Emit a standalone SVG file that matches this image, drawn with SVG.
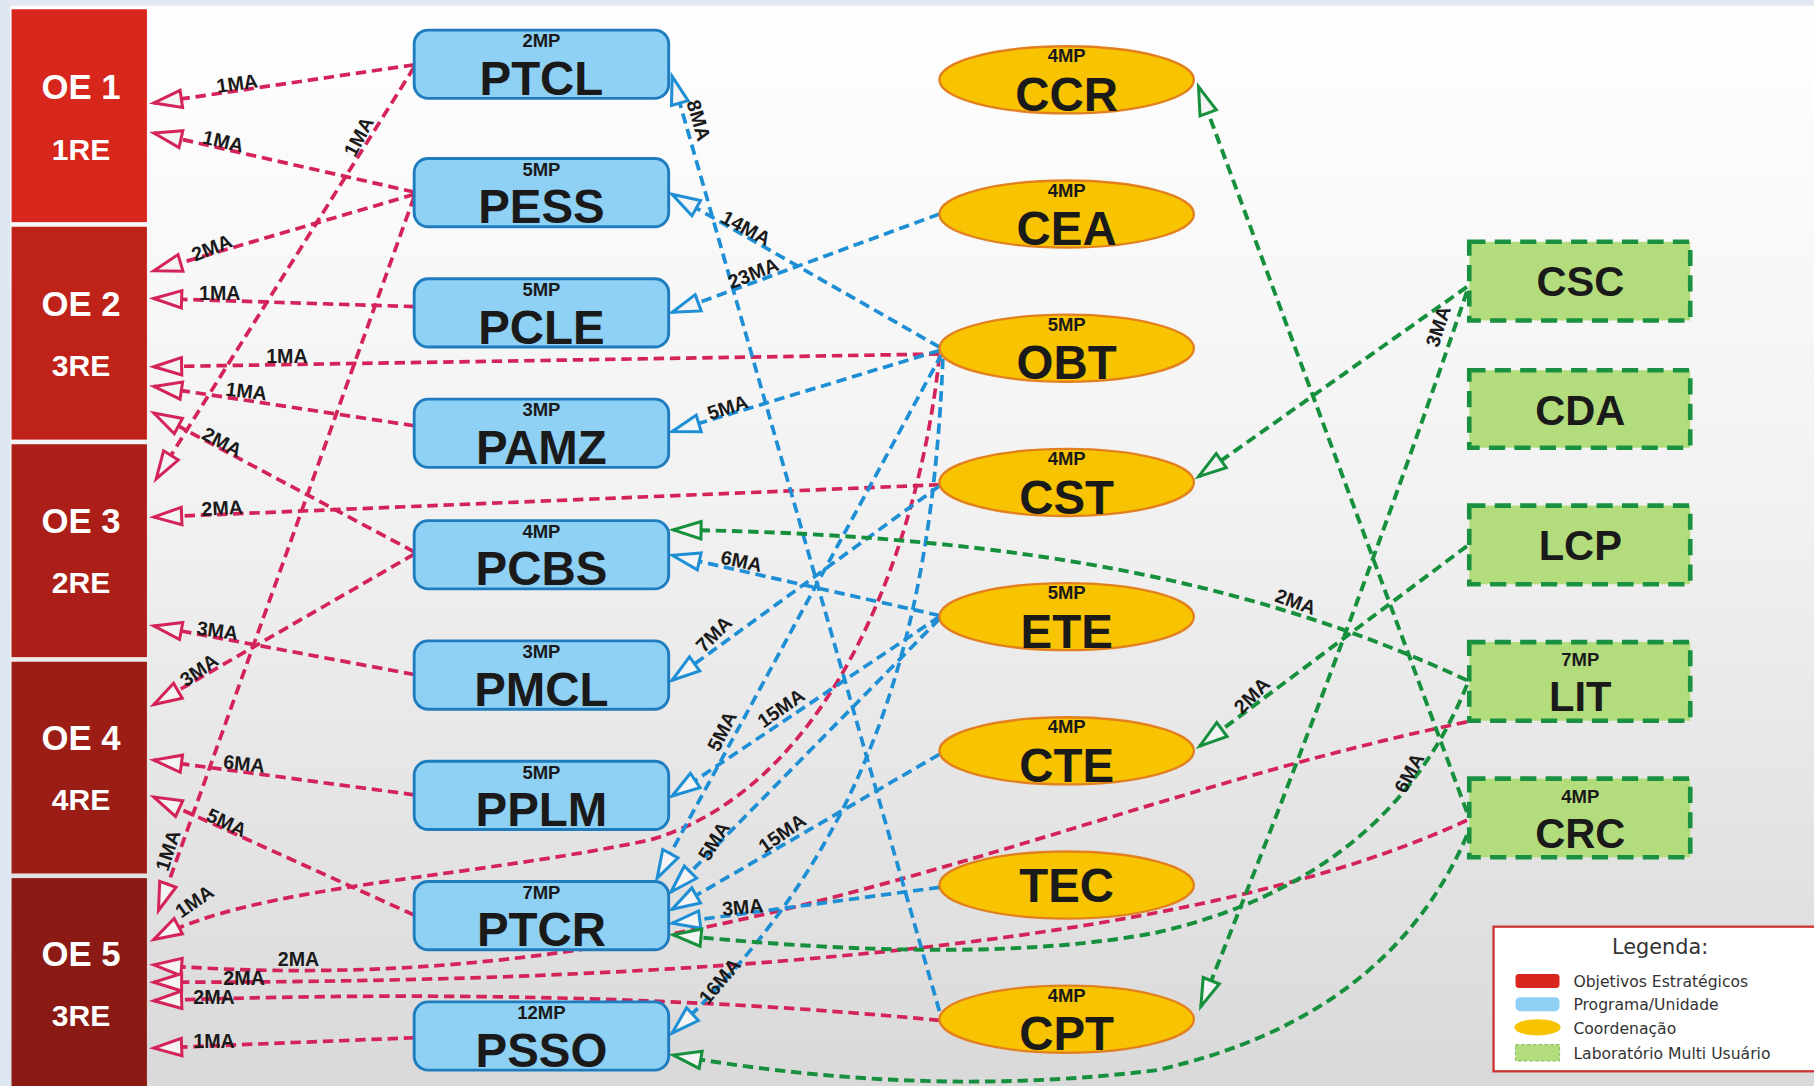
<svg xmlns="http://www.w3.org/2000/svg" width="1814" height="1086" viewBox="0 0 1814 1086">
<defs>
<linearGradient id="bg" x1="0" y1="0" x2="0" y2="1">
<stop offset="0" stop-color="#ffffff"/>
<stop offset="0.45" stop-color="#f2f2f2"/>
<stop offset="1" stop-color="#d9d9d9"/>
</linearGradient>
<marker id="ar" markerUnits="userSpaceOnUse" viewBox="0 0 28 18" refX="26" refY="9" markerWidth="28" markerHeight="18" orient="auto" overflow="visible">
<path d="M26,9 L2,1.5 L2,16.5 Z" fill="#f4f4f4" stroke="#d42358" stroke-width="2.6"/>
</marker>
<marker id="ab" markerUnits="userSpaceOnUse" viewBox="0 0 28 18" refX="26" refY="9" markerWidth="28" markerHeight="18" orient="auto" overflow="visible">
<path d="M26,9 L2,1.5 L2,16.5 Z" fill="#f4f4f4" stroke="#1e8fd5" stroke-width="2.6"/>
</marker>
<marker id="ag" markerUnits="userSpaceOnUse" viewBox="0 0 28 18" refX="26" refY="9" markerWidth="28" markerHeight="18" orient="auto" overflow="visible">
<path d="M26,9 L2,1.5 L2,16.5 Z" fill="#f4f4f4" stroke="#17903d" stroke-width="2.6"/>
</marker>
</defs>
<style>
text{font-family:"Liberation Sans",Arial,sans-serif;font-weight:bold}
.oet{fill:#ffffff;font-size:30px;text-anchor:middle}
.ret{fill:#ffffff;font-size:26px;text-anchor:middle}
.prog rect{fill:#8fd0f5;stroke:#1f7dbf;stroke-width:2.5}
.coord ellipse{fill:#f8c300;stroke:#e2801f;stroke-width:2}
.lab rect{fill:#b3dc7c;stroke:#1a9140;stroke-width:4;stroke-dasharray:14 8}
.mp{font-size:16px;text-anchor:middle;fill:#1a1a1a}
.nm{font-size:41px;text-anchor:middle;fill:#1a1a1a}
.cn{font-size:41px;text-anchor:middle;fill:#1a1a1a}
.ln{font-size:36px;text-anchor:middle;fill:#1a1a1a}
.lb{font-size:17px;text-anchor:middle;fill:#1a1a1a}
.r,.b,.g{fill:none;stroke-width:3.2;stroke-dasharray:9 5}
.r{stroke:#d42358;marker-end:url(#ar)}
.b{stroke:#1e8fd5;marker-end:url(#ab)}
.g{stroke:#17903d;stroke-width:3.4;marker-end:url(#ag)}
.lgt{font-family:"DejaVu Sans",Verdana,sans-serif;font-weight:normal;fill:#333333;font-size:13.5px}
</style>
<rect x="0" y="0" width="1814" height="1086" fill="url(#bg)"/>
<g transform="scale(1.1569)">
<rect x="0" y="0" width="1568" height="5" fill="#e3e9f2"/>
<rect x="0" y="0" width="9" height="939" fill="#dfe7f1"/>

<g id="oe1"><rect x="10" y="8" width="117" height="184" fill="#d7261b"/><text class="oet" x="70" y="86">OE 1</text><text class="ret" x="70" y="138">1RE</text></g>
<g id="oe2"><rect x="10" y="196" width="117" height="184" fill="#bf2219"/><text class="oet" x="70" y="273">OE 2</text><text class="ret" x="70" y="325">3RE</text></g>
<g id="oe3"><rect x="10" y="384" width="117" height="184" fill="#ab1f18"/><text class="oet" x="70" y="461">OE 3</text><text class="ret" x="70" y="513">2RE</text></g>
<g id="oe4"><rect x="10" y="572" width="117" height="183" fill="#9c1d16"/><text class="oet" x="70" y="648">OE 4</text><text class="ret" x="70" y="700">4RE</text></g>
<g id="oe5"><rect x="10" y="759" width="117" height="185" fill="#8a1a13"/><text class="oet" x="70" y="835">OE 5</text><text class="ret" x="70" y="887">3RE</text></g>

<g id="connectors">
<path class="r" d="M358,56 L133,89"/>
<path class="r" d="M358,166 L133,115"/>
<path class="r" d="M358,168 L133,234"/>
<path class="r" d="M358,265 L133,258"/>
<path class="r" d="M812,306 L133,317"/>
<path class="r" d="M358,368 L133,334"/>
<path class="r" d="M358,477 L133,357"/>
<path class="r" d="M358,58 L135,414"/>
<path class="r" d="M812,419 L133,447"/>
<path class="r" d="M358,583 L133,541"/>
<path class="r" d="M358,479 L133,609"/>
<path class="r" d="M358,687 L133,657"/>
<path class="r" d="M358,791 L133,689"/>
<path class="r" d="M358,170 L137,787"/>
<path class="r" d="M812,308 C795,470 720,680 562,726 C400,760 220,765 133,812"/>
<path class="r" d="M1268,624 C900,700 600,870 133,834"/>
<path class="r" d="M1268,709 C1050,810 650,850 133,849"/>
<path class="r" d="M812,882 Q500,852 133,865"/>
<path class="r" d="M358,897 L133,906"/>

<path class="b" d="M812,874 L581,66"/>
<path class="b" d="M812,300 L581,168"/>
<path class="b" d="M812,185 L581,270"/>
<path class="b" d="M812,303 L581,373"/>
<path class="b" d="M812,532 L581,480"/>
<path class="b" d="M812,420 L581,588"/>
<path class="b" d="M812,533 L581,688"/>
<path class="b" d="M814,306 L568,759"/>
<path class="b" d="M812,535 L580,771"/>
<path class="b" d="M812,652 L581,786"/>
<path class="b" d="M812,767 L581,798"/>
<path class="b" d="M815,310 C805,560 745,740 581,893"/>

<path class="g" d="M1268,702 L1036,75"/>
<path class="g" d="M1268,248 L1036,412"/>
<path class="g" d="M1268,252 Q1165,555 1038,870"/>
<path class="g" d="M1268,472 L1037,645"/>
<path class="g" d="M1268,588 C1100,510 900,462 582,458"/>
<path class="g" d="M1268,592 Q1200,760 1000,806 Q850,835 582,808"/>
<path class="g" d="M1268,722 Q1200,880 1000,925 Q800,950 582,912"/>

<g class="lb">
<text transform="translate(205,72) rotate(-8)" y="6">1MA</text>
<text transform="translate(193,122) rotate(13)" y="6">1MA</text>
<text transform="translate(310,118) rotate(-62)" y="6">1MA</text>
<text transform="translate(183,214) rotate(-22)" y="6">2MA</text>
<text transform="translate(190,253)" y="6">1MA</text>
<text transform="translate(248,308)" y="6">1MA</text>
<text transform="translate(213,338) rotate(7)" y="6">1MA</text>
<text transform="translate(192,382) rotate(28)" y="6">2MA</text>
<text transform="translate(192,439) rotate(-3)" y="6">2MA</text>
<text transform="translate(188,545) rotate(8)" y="6">3MA</text>
<text transform="translate(172,579) rotate(-35)" y="6">3MA</text>
<text transform="translate(211,660) rotate(6)" y="6">6MA</text>
<text transform="translate(196,711) rotate(25)" y="6">5MA</text>
<text transform="translate(145,735) rotate(-72)" y="6">1MA</text>
<text transform="translate(168,779) rotate(-35)" y="6">1MA</text>
<text transform="translate(258,829)" y="6">2MA</text>
<text transform="translate(211,845)" y="6">2MA</text>
<text transform="translate(185,862)" y="6">2MA</text>
<text transform="translate(185,900)" y="6">1MA</text>

<text transform="translate(604,104) rotate(74)" y="6">8MA</text>
<text transform="translate(645,197) rotate(28)" y="6">14MA</text>
<text transform="translate(651,236) rotate(-22)" y="6">23MA</text>
<text transform="translate(629,352) rotate(-18)" y="6">5MA</text>
<text transform="translate(641,485) rotate(12)" y="6">6MA</text>
<text transform="translate(617,548) rotate(-45)" y="6">7MA</text>
<text transform="translate(624,632) rotate(-63)" y="6">5MA</text>
<text transform="translate(675,612) rotate(-35)" y="6">15MA</text>
<text transform="translate(617,727) rotate(-58)" y="6">5MA</text>
<text transform="translate(676,720) rotate(-35)" y="6">15MA</text>
<text transform="translate(642,784) rotate(-5)" y="6">3MA</text>
<text transform="translate(622,848) rotate(-50)" y="6">16MA</text>

<text transform="translate(1243,282) rotate(-72)" y="6">3MA</text>
<text transform="translate(1120,520) rotate(20)" y="6">2MA</text>
<text transform="translate(1082,601) rotate(-45)" y="6">2MA</text>
<text transform="translate(1218,668) rotate(-62)" y="6">6MA</text>
</g>
</g>

<g class="prog">
<g id="ptcl"><rect x="358" y="26" width="220" height="59" rx="12"/><text class="mp" x="468" y="41">2MP</text><text class="nm" x="468" y="82">PTCL</text></g>
<g id="pess"><rect x="358" y="137" width="220" height="59" rx="12"/><text class="mp" x="468" y="152">5MP</text><text class="nm" x="468" y="193">PESS</text></g>
<g id="pcle"><rect x="358" y="241" width="220" height="59" rx="12"/><text class="mp" x="468" y="256">5MP</text><text class="nm" x="468" y="297">PCLE</text></g>
<g id="pamz"><rect x="358" y="345" width="220" height="59" rx="12"/><text class="mp" x="468" y="360">3MP</text><text class="nm" x="468" y="401">PAMZ</text></g>
<g id="pcbs"><rect x="358" y="450" width="220" height="59" rx="12"/><text class="mp" x="468" y="465">4MP</text><text class="nm" x="468" y="506">PCBS</text></g>
<g id="pmcl"><rect x="358" y="554" width="220" height="59" rx="12"/><text class="mp" x="468" y="569">3MP</text><text class="nm" x="468" y="610">PMCL</text></g>
<g id="pplm"><rect x="358" y="658" width="220" height="59" rx="12"/><text class="mp" x="468" y="673">5MP</text><text class="nm" x="468" y="714">PPLM</text></g>
<g id="ptcr"><rect x="358" y="762" width="220" height="59" rx="12"/><text class="mp" x="468" y="777">7MP</text><text class="nm" x="468" y="818">PTCR</text></g>
<g id="psso"><rect x="358" y="866" width="220" height="59" rx="12"/><text class="mp" x="468" y="881">12MP</text><text class="nm" x="468" y="922">PSSO</text></g>
</g>

<g class="coord">
<g id="ccr"><ellipse cx="922" cy="69" rx="110" ry="29"/><text class="mp" x="922" y="54">4MP</text><text class="cn" x="922" y="96">CCR</text></g>
<g id="cea"><ellipse cx="922" cy="185" rx="110" ry="29"/><text class="mp" x="922" y="170">4MP</text><text class="cn" x="922" y="212">CEA</text></g>
<g id="obt"><ellipse cx="922" cy="301" rx="110" ry="29"/><text class="mp" x="922" y="286">5MP</text><text class="cn" x="922" y="328">OBT</text></g>
<g id="cst"><ellipse cx="922" cy="417" rx="110" ry="29"/><text class="mp" x="922" y="402">4MP</text><text class="cn" x="922" y="444">CST</text></g>
<g id="ete"><ellipse cx="922" cy="533" rx="110" ry="29"/><text class="mp" x="922" y="518">5MP</text><text class="cn" x="922" y="560">ETE</text></g>
<g id="cte"><ellipse cx="922" cy="649" rx="110" ry="29"/><text class="mp" x="922" y="634">4MP</text><text class="cn" x="922" y="676">CTE</text></g>
<g id="tec"><ellipse cx="922" cy="765" rx="110" ry="29"/><text class="cn" x="922" y="780">TEC</text></g>
<g id="cpt"><ellipse cx="922" cy="881" rx="110" ry="29"/><text class="mp" x="922" y="866">4MP</text><text class="cn" x="922" y="908">CPT</text></g>
</g>

<g class="lab">
<g id="csc"><rect x="1270" y="209" width="191" height="68"/><text class="ln" x="1366" y="256">CSC</text></g>
<g id="cda"><rect x="1270" y="320" width="191" height="67"/><text class="ln" x="1366" y="367">CDA</text></g>
<g id="lcp"><rect x="1270" y="437" width="191" height="68"/><text class="ln" x="1366" y="484">LCP</text></g>
<g id="lit"><rect x="1270" y="555" width="191" height="68"/><text class="mp" x="1366" y="576">7MP</text><text class="ln" x="1366" y="615">LIT</text></g>
<g id="crc"><rect x="1270" y="673" width="191" height="68"/><text class="mp" x="1366" y="694">4MP</text><text class="ln" x="1366" y="733">CRC</text></g>
</g>

<g id="legend">
<rect x="1291" y="801" width="290" height="125" fill="#ffffff" stroke="#cc3333" stroke-width="2"/>
<text class="lgt" x="1435" y="825" text-anchor="middle" style="font-size:18px">Legenda:</text>
<rect x="1310" y="842" width="38" height="12" rx="3" fill="#d9261c"/>
<rect x="1310" y="862" width="38" height="12" rx="4" fill="#8fd0f5"/>
<ellipse cx="1329" cy="888" rx="20" ry="7" fill="#f8c300"/>
<rect x="1310" y="903" width="38" height="14" fill="#b3dc7c" stroke="#8cbf6a" stroke-width="1" stroke-dasharray="3 2"/>
<text class="lgt" x="1360" y="853">Objetivos Estratégicos</text>
<text class="lgt" x="1360" y="873">Programa/Unidade</text>
<text class="lgt" x="1360" y="894">Coordenação</text>
<text class="lgt" x="1360" y="915">Laboratório Multi Usuário</text>
</g>
</g>
</svg>
